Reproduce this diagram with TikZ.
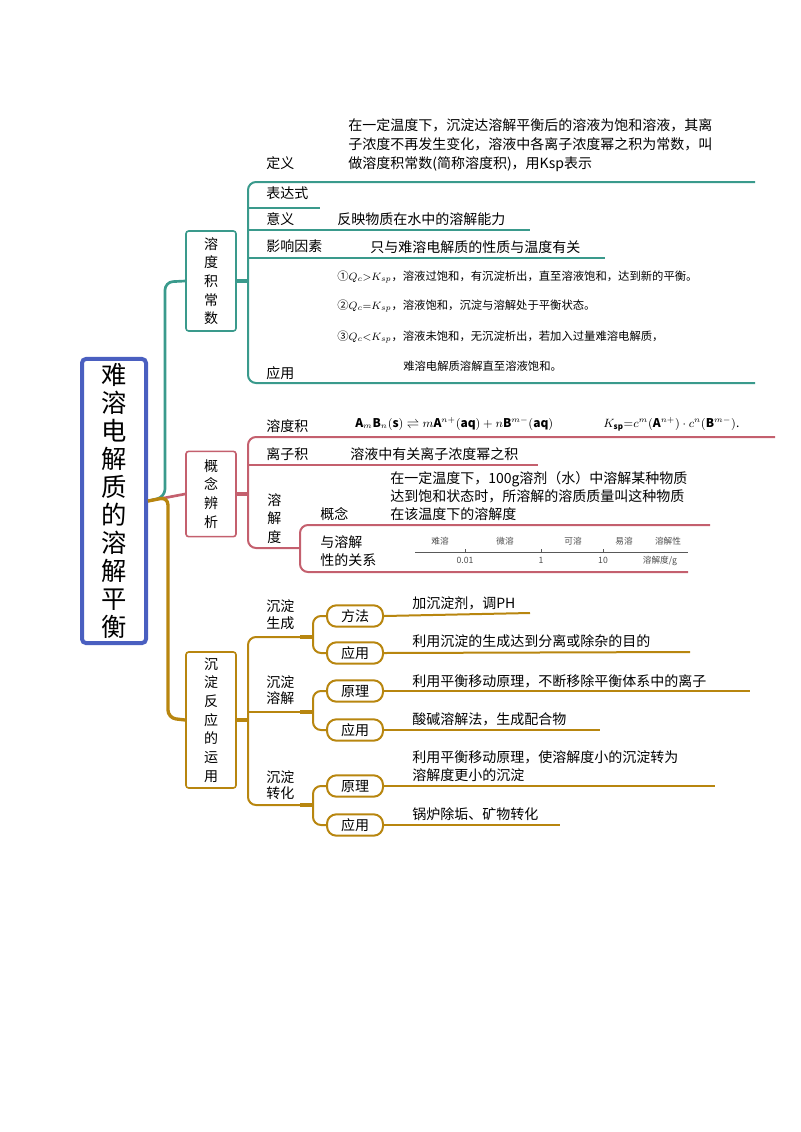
\documentclass[tikz,border=0pt]{standalone}
\usepackage{fontspec}
\setmainfont{Noto Sans CJK SC}
\usepackage{amsmath}
\definecolor{tl}{HTML}{3A9A8C}
\definecolor{rd}{HTML}{C4606E}
\definecolor{gd}{HTML}{B8860F}
\definecolor{bl}{HTML}{4A5FC0}
\begin{document}
\begin{tikzpicture}[x=0.75pt,y=-0.75pt,
  rc/.style={rounded corners=6pt,line width=1.5pt},
  lab/.style={anchor=west,font=\fontsize{10.5}{12}\selectfont,inner sep=0pt},
  sm/.style={anchor=west,font=\fontsize{8.5}{10}\selectfont,inner sep=0pt},
  vbox/.style={draw,line width=1.2pt,rounded corners=2pt,fill=white,minimum width=37.5pt,align=center,font=\fontsize{10.5}{14}\selectfont},
  pill/.style={draw=gd,line width=1.5pt,rounded corners=7pt,fill=white,minimum width=42pt,minimum height=16pt,inner sep=0pt,font=\fontsize{10.5}{12}\selectfont}]
\useasboundingbox (0,0) rectangle (800,1132);
% root
\node[draw=bl,line width=3pt,rounded corners=3pt,minimum width=48pt,minimum height=209pt,align=center,font=\fontsize{19}{21}\selectfont] (root) at (114,501) {难\\溶\\电\\解\\质\\的\\溶\\解\\平\\衡};
\node[vbox,draw=tl,minimum height=75pt] (b1) at (211,281) {溶\\度\\积\\常\\数};
\node[vbox,draw=rd,minimum height=64pt] (b2) at (211,494) {概\\念\\辨\\析};
\node[vbox,draw=gd,minimum height=102pt] (b3) at (211,720) {沉\\淀\\反\\应\\的\\运\\用};
\coordinate (j) at (root.east);
\draw[tl,rc,line width=2pt] (j) -- (165,497) -- (165,282) -- (b1.west);
\draw[rd,line width=2pt] (j) -- (b2.west);
\draw[gd,rc,line width=2.5pt] (j) -- (168,497) -- (168,718) -- (b3.west);
% teal section
\draw[tl,line width=2.5pt] (b1.east) -- (248,281);
\draw[tl,rc] (755,182) -- (248,182) -- (248,383) -- (755,383);
\draw[tl,line width=1.5pt] (248,208) -- (320,208) (248,230) -- (530,230) (248,258) -- (605,258);
\node[lab] (t1) at (266,163) {定义};
\node[lab] (t2) at (266,193) {表达式};
\node[lab] (t3) at (266,219) {意义};
\node[lab] (t4) at (266,246) {影响因素};
\node[lab] (t5) at (266,373) {应用};
\node[anchor=north west,inner sep=0pt,font=\fontsize{10.5}{14.3}\selectfont,align=left] (d1) at (348,118) {在一定温度下，沉淀达溶解平衡后的溶液为饱和溶液，其离\\子浓度不再发生变化，溶液中各离子浓度幂之积为常数，叫\\做溶度积常数(简称溶度积)，用Ksp表示};
\node[lab] (d3) at (337,219) {反映物质在水中的溶解能力};
\node[lab] (d4) at (370,247) {只与难溶电解质的性质与温度有关};
\node[sm] (a1) at (337,277) {①$Q_c{>}K_{sp}$，溶液过饱和，有沉淀析出，直至溶液饱和，达到新的平衡。};
\node[sm] (a2) at (337,306) {②$Q_c{=}K_{sp}$，溶液饱和，沉淀与溶解处于平衡状态。};
\node[sm] (a3) at (337,337) {③$Q_c{<}K_{sp}$，溶液未饱和，无沉淀析出，若加入过量难溶电解质，};
\node[sm] (a4) at (403,366) {难溶电解质溶解直至溶液饱和。};
% red section
\draw[rd,line width=2.5pt] (b2.east) -- (248,494);
\draw[rd,rc] (775,437) -- (248,437) -- (248,548) -- (300,548);
\draw[rd,line width=1.5pt] (248,465) -- (538,465);
\draw[rd,rc] (710,525) -- (300,525) -- (300,572) -- (688,572);
\node[lab] (r1) at (266,426) {溶度积};
\node[lab] (r2) at (266,454) {离子积};
\node[lab,anchor=north west,align=center,font=\fontsize{10.5}{14}\selectfont] (r3) at (267,493) {溶\\解\\度};
\node[sm,font=\fontsize{9}{11}\selectfont] (f1) at (355,424) {$\mathbf{A}_m\mathbf{B}_n\mathbf{(s)}\rightleftharpoons m\mathbf{A}^{n+}\mathbf{(aq)}+n\mathbf{B}^{m-}\mathbf{(aq)}$};
\node[sm,font=\fontsize{9}{11}\selectfont] (f2) at (603,424) {$K_{\mathbf{sp}}\mathbf{=}c^m\mathbf{(A}^{n+}\mathbf{)}\cdot c^n\mathbf{(B}^{m-}\mathbf{)}$.};
\node[lab] (r2t) at (350,454) {溶液中有关离子浓度幂之积};
\node[lab] (s1) at (320,514) {概念};
\node[lab,align=left,font=\fontsize{10.5}{13}\selectfont] (s2) at (320,551) {与溶解\\性的关系};
\node[anchor=north west,inner sep=0pt,font=\fontsize{10.5}{13.5}\selectfont,align=left] (c1) at (390,471) {在一定温度下，100g溶剂（水）中溶解某种物质\\达到饱和状态时，所溶解的溶质质量叫这种物质\\在该温度下的溶解度};
\coordinate (ax1) at (415,552);
\coordinate (ax2) at (688,552);
\draw[gray!70!black,line width=0.6pt] (ax1) -- (ax2);
\foreach \xx in {465,541,603} \draw[gray!70!black,line width=0.6pt] (\xx,549) -- (\xx,552);
\begin{scope}[every node/.style={font=\fontsize{6.5}{8}\selectfont,text=gray!60!black,inner sep=0pt}]
\node (k1) at (440,541) {难溶};
\node (k2) at (505,541) {微溶};
\node (k3) at (573,541) {可溶};
\node (k4) at (624,541) {易溶};
\node (k5) at (668,541) {溶解性};
\node (v1) at (465,560) {0.01};
\node (v2) at (541,560) {1};
\node (v3) at (603,560) {10};
\node (v4) at (660,561) {溶解度/g};
\end{scope}
% gold section
\draw[gd,line width=3pt] (b3.east) -- (248,720);
\draw[gd,rc] (300,637) -- (248,637) -- (248,805) -- (300,805);
\draw[gd,line width=1.5pt] (248,712) -- (300,712);
\node[lab,align=left,font=\fontsize{10.5}{12.5}\selectfont] (g1) at (266,615) {沉淀\\生成};
\node[lab,align=left,font=\fontsize{10.5}{12.5}\selectfont] (g2) at (266,690) {沉淀\\溶解};
\node[lab,align=left,font=\fontsize{10.5}{12.5}\selectfont] (g3) at (266,785) {沉淀\\转化};
\foreach \yc/\ya/\yb in {637/616/653, 712/691/730, 805/786/825}{
  \draw[gd,line width=2.5pt] (300,\yc) -- (313,\yc);
  \draw[gd,rc] (327,\ya) -- (313,\ya) -- (313,\yb) -- (327,\yb);
}
\node[pill] (p1) at (355,616) {方法};
\node[pill] (p2) at (355,653) {应用};
\node[pill] (p3) at (355,691) {原理};
\node[pill] (p4) at (355,730) {应用};
\node[pill] (p5) at (355,786) {原理};
\node[pill] (p6) at (355,825) {应用};
\draw[gd,line width=1.5pt] (p1.east) -- (530,613);
\draw[gd,line width=1.5pt] (p2.east) -- (690,652);
\draw[gd,line width=1.5pt] (p3.east) -- (750,691);
\draw[gd,line width=1.5pt] (p4.east) -- (600,730);
\draw[gd,line width=1.5pt] (p5.east) -- (715,786);
\draw[gd,line width=1.5pt] (p6.east) -- (560,825);
\node[lab] (e1) at (412,603) {加沉淀剂，调PH};
\node[lab] (e2) at (412,641) {利用沉淀的生成达到分离或除杂的目的};
\node[lab] (e3) at (412,681) {利用平衡移动原理，不断移除平衡体系中的离子};
\node[lab] (e4) at (412,719) {酸碱溶解法，生成配合物};
\node[lab,align=left,font=\fontsize{10.5}{13}\selectfont] (e5) at (412,766) {利用平衡移动原理，使溶解度小的沉淀转为\\溶解度更小的沉淀};
\node[lab] (e6) at (412,814) {锅炉除垢、矿物转化};
\end{tikzpicture}
\end{document}
